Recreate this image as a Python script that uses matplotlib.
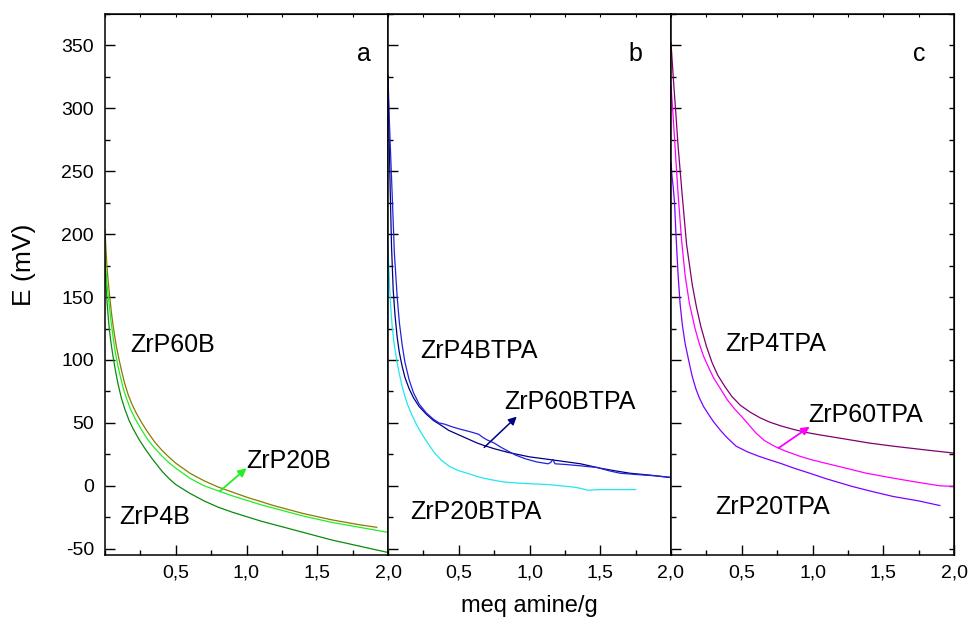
import numpy as np
import matplotlib
matplotlib.use("Agg")
import matplotlib.pyplot as plt
from matplotlib.ticker import MultipleLocator, FixedLocator, FuncFormatter

plt.rcParams['font.family'] = ['Liberation Sans', 'DejaVu Sans']
plt.rcParams['axes.unicode_minus'] = False

# ---------------- data ----------------
# Panel a
x_zrp60b = [0, 0.005, 0.012, 0.02, 0.03, 0.045, 0.06, 0.08, 0.1, 0.12, 0.14, 0.165, 0.19, 0.22, 0.26, 0.3, 0.35, 0.4, 0.45, 0.5,
            0.6, 0.7, 0.8, 0.9, 1.0, 1.1, 1.2, 1.3, 1.4, 1.5, 1.6, 1.7, 1.8, 1.92]
y_zrp60b = [203, 192, 178, 166, 154, 138, 125, 111, 100, 90, 81, 72, 65, 58, 50, 43, 35, 28.5, 23, 18,
            10, 4, -1, -5, -9, -12.5, -16, -19, -22, -24.5, -27, -29, -31, -33]
x_zrp20b = [0, 0.005, 0.012, 0.02, 0.028, 0.04, 0.055, 0.07, 0.09, 0.11, 0.13, 0.15, 0.18, 0.21, 0.25, 0.3, 0.35, 0.4, 0.45, 0.5,
            0.6, 0.7, 0.8, 0.9, 1.0, 1.1, 1.2, 1.3, 1.4, 1.5, 1.6, 1.7, 1.8, 1.9, 2.0]
y_zrp20b = [187, 175, 163, 154, 146, 133, 120, 108, 96, 86, 77, 70, 61, 54, 46, 37, 30, 24, 18.5, 14,
            6, 0, -4, -8, -11.5, -15, -18, -21, -24, -26.5, -29, -31, -33, -35, -37]
x_zrp4b = [0, 0.005, 0.012, 0.02, 0.03, 0.042, 0.055, 0.07, 0.09, 0.115, 0.14, 0.17, 0.2, 0.24, 0.28, 0.33, 0.4, 0.45, 0.5,
           0.6, 0.7, 0.8, 0.9, 1.0, 1.1, 1.2, 1.3, 1.4, 1.5, 1.6, 1.7, 1.8, 1.9, 2.0]
y_zrp4b = [178, 163, 150, 138, 125, 114, 104, 94, 82, 70, 61, 52, 45, 37, 30, 22, 12, 6, 1,
           -6, -12, -17, -21, -24.5, -28, -31, -34, -37, -40, -43, -45.5, -48, -50.5, -53]

# Panel b
x_zrp60btpa = [0, 0.005, 0.01, 0.016, 0.025, 0.037, 0.05, 0.065, 0.08, 0.1, 0.12, 0.15, 0.18, 0.22, 0.27, 0.32, 0.37, 0.43,
               0.5, 0.57, 0.63, 0.68, 0.75, 0.85, 1.0, 1.1, 1.2, 1.36, 1.5, 1.6, 1.71, 1.85, 2.0]
y_zrp60btpa = [326, 295, 265, 233, 190, 155, 135, 118, 106, 95, 86, 77, 70, 63, 57, 52, 48.5, 44,
               40.5, 37, 34, 32, 29.5, 26.5, 23, 21.5, 20, 17.5, 14, 12, 10, 8.5, 6.6]
x_zrp4btpa = [0, 0.008, 0.018, 0.03, 0.045, 0.065, 0.08, 0.1, 0.12, 0.15, 0.18, 0.22, 0.27, 0.32, 0.36, 0.4, 0.45, 0.51,
              0.58, 0.64, 0.67, 0.7, 0.75, 0.8, 0.85, 0.9, 0.97, 1.05, 1.13, 1.15, 1.165, 1.18, 1.25, 1.35, 1.48, 1.56,
              1.64, 1.75, 1.88, 2.0]
y_zrp4btpa = [326, 295, 265, 230, 185, 150, 130, 112, 98, 84, 74, 65, 58, 53, 50, 49, 47, 45,
              43, 41, 38.5, 36.5, 34, 30.5, 27.5, 24.5, 21.5, 19, 17.5, 18.5, 21, 17.5, 17, 16, 14.5, 12,
              10, 9, 8, 6.6]
x_zrp20btpa = [0, 0.005, 0.01, 0.015, 0.022, 0.03, 0.04, 0.05, 0.065, 0.08, 0.1, 0.12, 0.14, 0.17, 0.2, 0.24, 0.28, 0.33,
               0.38, 0.44, 0.5, 0.56, 0.64, 0.72, 0.82, 0.94, 1.03, 1.13, 1.22, 1.31, 1.36, 1.41, 1.5, 1.6, 1.75]
y_zrp20btpa = [190, 175, 162, 150, 138, 126, 116, 108, 98, 89, 79, 71, 64, 56, 49, 41, 34, 26,
               20, 15, 12, 10, 7, 5, 3, 2, 1.5, 1, 0, -1, -2, -3.5, -3, -3, -3]

# Panel c
x_zrp4tpa = [0, 0.01, 0.02, 0.033, 0.05, 0.08, 0.11, 0.15, 0.18, 0.21, 0.25, 0.29, 0.33, 0.38, 0.43, 0.49, 0.56, 0.63,
             0.7, 0.78, 0.86, 0.95, 1.05, 1.24, 1.4, 1.57, 1.8, 2.0]
y_zrp4tpa = [352, 335, 318, 298, 270, 230, 192, 160, 142, 127, 111, 98, 88, 79, 71, 64, 58.5, 54,
             50.5, 47.5, 45, 42.5, 40.5, 37, 34, 31.5, 28.5, 26]
x_zrp60tpa = [0, 0.01, 0.02, 0.035, 0.05, 0.075, 0.1, 0.13, 0.17, 0.2, 0.23, 0.27, 0.3, 0.35, 0.4, 0.45, 0.5, 0.55,
              0.6, 0.66, 0.73, 0.8, 0.91, 1.0, 1.09, 1.2, 1.38, 1.55, 1.71, 1.9, 2.0]
y_zrp60tpa = [318, 302, 285, 258, 232, 195, 167, 145, 125, 113, 103, 93, 86, 77, 68, 61, 55, 48.5,
              42, 36, 31.5, 28, 23.5, 20.5, 18, 15, 10, 6.5, 3.4, 0, -0.5]
x_zrp20tpa = [0, 0.008, 0.016, 0.025, 0.035, 0.05, 0.064, 0.08, 0.1, 0.13, 0.15, 0.176, 0.2, 0.23, 0.27, 0.3, 0.35,
              0.39, 0.46, 0.54, 0.62, 0.7, 0.77, 0.87, 0.98, 1.1, 1.28, 1.42, 1.57, 1.75, 1.9]
y_zrp20tpa = [257, 245, 237, 225, 200, 168, 145, 128, 113, 97, 87, 77, 70, 63, 56, 51, 44,
              39, 31.5, 27, 23.5, 20.5, 18, 14, 10, 5.5, -0.5, -4.5, -8.5, -12, -15.7]

xtick_vals = [0.5, 1.0, 1.5, 2.0]
ytick_vals = [-50, 0, 50, 100, 150, 200, 250, 300, 350]

# ---------------- figure ----------------
fig = plt.figure(figsize=(9.71, 6.26), dpi=100)
L, R, B, T = 105/971, 954/971, 1-555/626, 1-14/626
W = (R - L) / 3
axes = [fig.add_axes([L + i*W, B, W, T - B]) for i in range(3)]

lw = 0.9
panels = [
    [(x_zrp60b, y_zrp60b, '#8a7a00'), (x_zrp20b, y_zrp20b, '#22ee22'), (x_zrp4b, y_zrp4b, '#0a8a0a')],
    [(x_zrp60btpa, y_zrp60btpa, '#000080'), (x_zrp4btpa, y_zrp4btpa, '#2222dd'), (x_zrp20btpa, y_zrp20btpa, '#22e6f0')],
    [(x_zrp4tpa, y_zrp4tpa, '#800070'), (x_zrp60tpa, y_zrp60tpa, '#ff00ff'), (x_zrp20tpa, y_zrp20tpa, '#7f00ff')],
]

fmt = FuncFormatter(lambda v, p: ('%.1f' % v).replace('.', ','))
for i, ax in enumerate(axes):
    for xs, ys, c in panels[i]:
        ax.plot(xs, ys, color=c, lw=lw)
    ax.set_xlim(0, 2.0)
    ax.set_ylim(-55, 375)
    ax.xaxis.set_major_locator(FixedLocator(xtick_vals))
    ax.xaxis.set_minor_locator(MultipleLocator(0.25))
    ax.xaxis.set_major_formatter(fmt)
    ax.yaxis.set_major_locator(FixedLocator(ytick_vals))
    ax.yaxis.set_minor_locator(MultipleLocator(25))
    ax.tick_params(which='both', direction='in', top=False, right=False, width=1.0, labelsize=14)
    ax.tick_params(which='major', length=7)
    ax.tick_params(which='minor', length=3.6)
    ax.tick_params(axis='x', pad=7)
    ax.tick_params(axis='y', pad=8)
    for s in ax.spines.values():
        s.set_linewidth(1.1)
    if i > 0:
        ax.tick_params(axis='y', labelleft=False)
    top = ax.secondary_xaxis('top')
    top.xaxis.set_major_locator(MultipleLocator(0.25))
    top.tick_params(direction='in', length=2.5, width=0.8, labeltop=False)

right = axes[2].secondary_yaxis('right')
right.yaxis.set_major_locator(MultipleLocator(25))
right.tick_params(direction='in', length=3.6, width=1.0, labelright=False)

fs = 18
a0, a1, a2 = axes
a0.text(0.177, 112, 'ZrP60B', fontsize=fs, va='center')
a0.text(1.0, 20, 'ZrP20B', fontsize=fs, va='center')
a0.text(0.1, -25, 'ZrP4B', fontsize=fs, va='center')
a0.text(1.78, 343, 'a', fontsize=fs, va='center')
a0.annotate('', xy=(1.0, 14), xytext=(0.81, -4.5),
            arrowprops=dict(arrowstyle='-|>', color='#22ee22', lw=1.3, mutation_scale=12, shrinkA=0, shrinkB=0))

a1.text(0.23, 107, 'ZrP4BTPA', fontsize=fs, va='center')
a1.text(0.82, 67, 'ZrP60BTPA', fontsize=fs, va='center')
a1.text(0.16, -21, 'ZrP20BTPA', fontsize=fs, va='center')
a1.text(1.70, 343, 'b', fontsize=fs, va='center')
a1.annotate('', xy=(0.91, 55), xytext=(0.68, 30.5),
            arrowprops=dict(arrowstyle='-|>', color='#000080', lw=1.1, mutation_scale=12, shrinkA=0, shrinkB=0))

a2.text(0.38, 113, 'ZrP4TPA', fontsize=fs, va='center')
a2.text(0.97, 56, 'ZrP60TPA', fontsize=fs, va='center')
a2.text(0.31, -17, 'ZrP20TPA', fontsize=fs, va='center')
a2.text(1.71, 343, 'c', fontsize=fs, va='center')
a2.annotate('', xy=(0.98, 47), xytext=(0.76, 30),
            arrowprops=dict(arrowstyle='-|>', color='#ff00ff', lw=1.3, mutation_scale=12, shrinkA=0, shrinkB=0))

fig.text(529/971, 1-606/626, 'meq amine/g', fontsize=17, ha='center', va='center')
fig.text(24/971, 1-265/626, 'E (mV)', fontsize=19, ha='center', va='center', rotation=90)

fig.savefig('out.png', dpi=100)
